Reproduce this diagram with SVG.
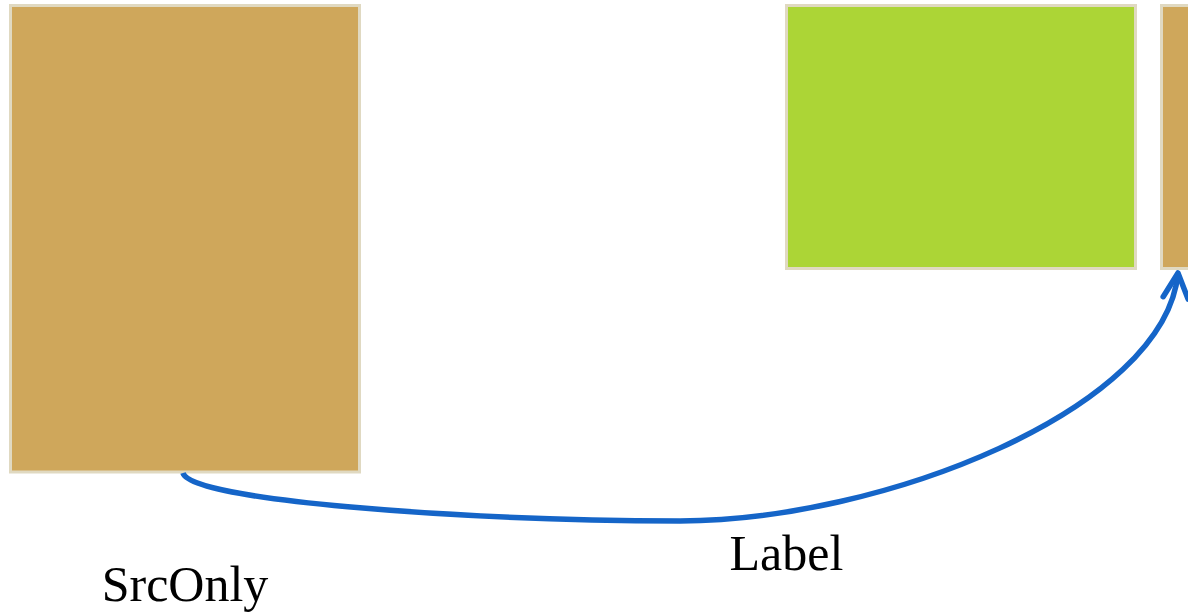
<svg xmlns="http://www.w3.org/2000/svg" width="1188" height="615" viewBox="0 0 1188 615">
<style>
.node{stroke:#e0d9c1;stroke-width:3}
.tan{fill:#cfa75b}
.green{fill:#acd536}
.edge{fill:none;stroke:#1565c8;stroke-width:5.5}
.lbl{font-family:"Liberation Serif","Times New Roman",serif;font-size:50px;fill:#000;text-anchor:middle}
</style>
<defs>
<marker id="arr" markerUnits="userSpaceOnUse" markerWidth="40" markerHeight="40" refX="0" refY="0" viewBox="-30 -20 40 40" orient="auto" overflow="visible">
<path d="M-25,-12.5 L0,0 L-25,12.5" fill="none" stroke="#1565c8" stroke-width="5.5" stroke-linecap="round" stroke-linejoin="round"/>
</marker>
</defs>
<rect width="1188" height="615" fill="#fff"/>
<g id="srconly">
<rect class="node tan" x="10.5" y="5.5" width="349" height="466.5"/>
<text class="lbl" x="185" y="601">SrcOnly</text>
</g>
<g id="green-node">
<rect class="node green" x="786.5" y="5.5" width="349" height="263"/>
</g>
<g id="target-node">
<rect class="node tan" x="1161.5" y="5.5" width="349" height="263"/>
</g>
<g id="connectors">
<path class="edge" d="M183,473 C190,500 450,520 680,521 C880,521 1165,410 1178,273" marker-end="url(#arr)"/>
<text class="lbl" x="786.5" y="570">Label</text>
</g>
</svg>
